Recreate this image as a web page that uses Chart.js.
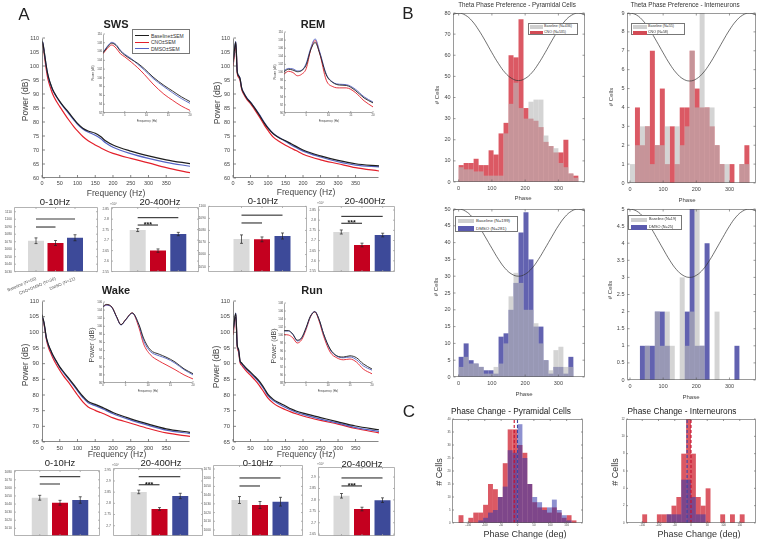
<!DOCTYPE html>
<html lang="en">
<head>
<meta charset="UTF-8">
<title>Power spectra and theta phase preference</title>
<script src="https://cdn.jsdelivr.net/npm/chart.js"></script>
<style>
  body { margin: 0; background: #fff; }
  #fig { position: relative; width: 757px; height: 540px; overflow: hidden;
         font-family: "Liberation Sans", Arial, Helvetica, sans-serif; color: #222; }
  #fig canvas { position: absolute; }
  .t { position: absolute; white-space: nowrap; line-height: 1; transform: translate(-50%, -50%); }
  .flat { will-change: transform; }
  .legend { position: absolute; background: #fff; border: 0.6px solid #777; box-sizing: border-box; }
</style>
</head>
<body>
<div id="fig"></div>
<script>
// ---------------- data: power spectra (dB) ----------------
const psdFreq = [0, 2, 5, 8, 12, 16, 20, 25, 30, 40, 50, 60, 75, 90, 100, 115, 130, 150, 165, 180, 200, 250, 300, 350, 417];
const psdXTicks = [0, 50, 100, 150, 200, 250, 300, 350];

const swsBase = [108.6, 108.3, 106.2, 103.5, 100.0, 97.2, 95.2, 93.3, 91.6, 89.3, 87.4, 85.7, 83.4, 81.0, 79.5, 77.8, 76.8, 76.0, 74.8, 73.2, 71.8, 69.6, 67.9, 66.5, 65.1];
const swsCno  = [108.3, 107.8, 105.5, 102.5, 98.8, 95.8, 93.8, 91.8, 90.0, 87.5, 85.5, 83.6, 80.8, 78.3, 76.8, 74.8, 73.3, 71.8, 70.8, 69.8, 68.8, 67.0, 65.4, 63.7, 61.9];
const swsDmso = [108.8, 108.5, 106.3, 103.5, 100.0, 97.1, 95.0, 93.1, 91.4, 89.1, 87.2, 85.5, 83.1, 80.7, 79.2, 77.5, 76.4, 75.3, 74.1, 72.5, 71.0, 68.7, 67.0, 65.6, 64.2];

const remBase = [101.4, 103.0, 106.5, 108.5, 98.0, 96.5, 95.5, 92.0, 90.5, 88.4, 87.0, 85.3, 82.5, 79.5, 77.8, 75.8, 74.5, 73.3, 72.3, 71.3, 70.0, 67.9, 66.3, 65.1, 64.3];
const remCno  = [100.0, 101.8, 105.5, 108.0, 97.5, 96.0, 95.0, 91.6, 90.1, 88.0, 86.6, 84.8, 81.9, 78.8, 77.0, 74.6, 73.2, 71.7, 70.7, 69.8, 68.5, 66.5, 65.1, 63.7, 62.5];
const remDmso = [101.0, 103.2, 106.8, 108.7, 98.2, 96.6, 95.6, 92.1, 90.6, 88.5, 87.1, 85.4, 82.7, 79.7, 78.0, 75.9, 74.6, 73.0, 71.9, 70.9, 69.6, 67.5, 65.8, 64.6, 64.0];

const wakeBase = [105.6, 104.8, 103.5, 101.5, 98.5, 96.8, 95.5, 94.2, 92.9, 90.9, 89.0, 87.5, 85.4, 83.2, 81.7, 79.6, 77.9, 77.0, 76.3, 75.5, 74.4, 72.4, 70.7, 69.2, 68.1];
const wakeCno  = [105.0, 104.2, 103.0, 101.0, 98.0, 96.0, 94.6, 93.3, 92.0, 89.8, 87.9, 86.2, 84.0, 81.6, 80.0, 77.8, 76.2, 75.1, 74.4, 73.7, 72.7, 71.0, 69.3, 67.9, 66.8];
const wakeDmso = [105.3, 104.5, 103.3, 101.3, 98.3, 96.6, 95.3, 94.0, 92.7, 90.7, 88.8, 87.2, 85.1, 82.9, 81.3, 79.2, 77.5, 76.6, 75.9, 75.1, 74.0, 72.0, 70.3, 68.8, 67.7];

const runBase = [100.8, 102.0, 104.5, 106.0, 96.0, 94.5, 91.0, 90.2, 89.5, 88.3, 87.3, 86.2, 84.4, 82.0, 80.2, 78.6, 77.6, 76.5, 75.6, 74.9, 74.2, 72.8, 71.4, 70.1, 68.9];
const runCno  = [99.2, 100.8, 104.0, 105.6, 95.4, 93.8, 90.4, 89.5, 88.7, 87.4, 86.3, 85.1, 83.1, 80.6, 79.0, 77.4, 76.3, 75.3, 74.6, 74.0, 73.3, 71.9, 70.7, 69.3, 67.9];
const runDmso = [100.5, 101.8, 104.4, 106.1, 95.8, 94.3, 90.8, 90.0, 89.2, 88.0, 87.0, 85.9, 84.0, 81.6, 79.8, 78.2, 77.2, 76.0, 75.2, 74.5, 73.8, 72.3, 71.0, 69.6, 68.4];

// insets, 0-20 Hz
const insetXTicks = [0, 5, 10, 15, 20];
const swsInsetFreq = [0, 1, 2, 3, 4, 5, 6.5, 8, 9.5, 11.5, 14, 16, 18, 20];
const swsInsetBase = [105.7, 107.0, 107.9, 107.4, 106.1, 105.2, 104.2, 103.3, 102.1, 100.2, 98.3, 97.0, 95.7, 94.6];
const swsInsetCno  = [105.5, 106.7, 107.5, 106.8, 105.5, 104.8, 103.6, 102.3, 100.8, 98.6, 96.3, 94.9, 93.6, 92.6];
const swsInsetDmso = [105.8, 107.2, 108.1, 107.6, 106.3, 105.4, 104.4, 103.1, 101.8, 99.9, 98.0, 96.6, 95.3, 94.2];

const remInsetFreq = [0, 1, 2, 3, 4, 5, 6, 7, 8, 9.5, 11, 12.5, 14, 16, 18, 20];
const remInsetBase = [100.2, 100.8, 100.6, 100.2, 100.5, 101.9, 105.6, 107.4, 104.8, 99.4, 97.5, 96.9, 96.8, 95.6, 93.7, 92.5];
const remInsetCno  = [99.6, 100.3, 100.0, 99.2, 99.6, 101.0, 105.6, 107.9, 104.8, 98.1, 96.5, 96.2, 96.2, 95.1, 93.0, 91.5];
const remInsetDmso = [100.5, 101.0, 100.9, 100.4, 100.6, 102.3, 106.0, 108.3, 105.2, 99.6, 97.6, 97.1, 97.0, 95.9, 94.0, 92.7];

const wakeInsetFreq = [0, 0.75, 2, 3, 4, 5, 6.5, 8, 9, 10.5, 12.5, 14, 16, 18, 20];
const wakeInsetBase = [104.9, 105.4, 104.7, 102.4, 100.4, 101.6, 103.3, 100.4, 97.1, 94.2, 93.1, 92.4, 91.2, 89.5, 88.3];
const wakeInsetCno  = [104.8, 105.3, 104.7, 102.4, 100.4, 101.6, 103.3, 99.6, 95.7, 93.0, 91.4, 90.5, 89.3, 88.0, 87.0];
const wakeInsetDmso = [104.8, 105.2, 104.6, 102.3, 100.3, 101.5, 103.2, 100.2, 96.5, 93.8, 92.7, 92.1, 90.9, 89.3, 88.0];

const runInsetFreq = [0, 1, 2, 3, 4, 5, 6, 7, 8, 9, 10.5, 12, 13.5, 15, 16.5, 18, 20];
const runInsetBase = [101.1, 101.1, 100.2, 98.7, 99.3, 101.8, 104.7, 105.8, 103.8, 100.3, 96.5, 94.8, 94.5, 94.8, 94.3, 92.8, 91.5];
const runInsetCno  = [100.1, 100.0, 99.3, 98.0, 98.8, 101.3, 104.5, 105.8, 103.4, 99.7, 95.7, 94.3, 93.8, 94.0, 93.2, 91.5, 90.3];
const runInsetDmso = [101.0, 101.0, 100.2, 98.5, 99.2, 101.6, 104.6, 105.9, 103.8, 100.2, 96.3, 94.7, 94.3, 94.5, 93.8, 92.3, 91.2];

// ---------------- data: band power bars ----------------
const barPos = [1, 2, 3];
const barGroups = ['Baseline (N=56)', 'CNO+DMSO (N=36)', 'DMSO (N=21)'];
const swsLow = [1071.3, 1068.3, 1075.3],  swsLowErr = [3.8, 3.3, 4.0];
const swsHigh = [2.748, 2.650, 2.729],    swsHighErr = [0.007, 0.008, 0.008];
const remLow = [1072.8, 1072.6, 1075.4],  remLowErr = [3.5, 2.0, 2.5];
const remHigh = [2.742, 2.678, 2.727],    remHighErr = [0.010, 0.009, 0.009];
const wakeLow = [1047.8, 1041.6, 1045.0], wakeLowErr = [3.0, 3.0, 4.0];
const wakeHigh = [2.851, 2.775, 2.833],   wakeHighErr = [0.008, 0.006, 0.012];
const runLow = [1034.4, 1028.7, 1032.5],  runLowErr = [4.0, 4.0, 5.0];
const runHigh = [2.818, 2.760, 2.799],    runHighErr = [0.010, 0.008, 0.010];
// significance bars: [from bar, to bar, level]
const swsLowSig = [[0, 2, 1100.3], [0, 1, 1089.6]];
const swsHighSig = [[0, 2, 2.807], [0, 1, 2.772]];
const remLowSig = [[0, 2, 1092.7], [0, 1, 1086.2]];
const remHighSig = [[0, 2, 2.819], [0, 1, 2.785]];
const wakeLowSig = [[0, 2, 1073.8], [0, 1, 1064.8]];
const wakeHighSig = [[0, 2, 2.919], [0, 1, 2.883]];
const runLowSig = [[0, 2, 1059.7], [0, 1, 1050.5]];
const runHighSig = [[0, 2, 2.896], [0, 1, 2.861]];

// ---------------- data: theta phase histograms ----------------
const phaseCenters = [7.5, 22.5, 37.5, 52.5, 67.5, 82.5, 97.5, 112.5, 127.5, 142.5, 157.5, 172.5,
                      187.5, 202.5, 217.5, 232.5, 247.5, 262.5, 277.5, 292.5, 307.5, 322.5, 337.5, 352.5];
const phaseTicks = [0, 100, 200, 300];
const pyrBaseA = [7, 6, 6, 5, 5, 3, 3, 3, 3, 23, 37, 47, 35, 30, 38, 39, 39, 22, 17, 16, 9, 7, 4, 2];
const pyrCno   = [8, 9, 9, 11, 8, 8, 15, 13, 23, 28, 60, 59, 77, 35, 30, 29, 26, 19, 17, 14, 14, 20, 4, 3];
const intBaseA = [1, 2, 3, 3, 1, 2, 2, 3, 0, 3, 2, 3, 7, 4, 9, 4, 4, 2, 1, 1, 0, 0, 1, 1];
const intCno   = [0, 4, 2, 3, 7, 2, 5, 1, 3, 1, 4, 4, 7, 5, 4, 4, 3, 2, 1, 0, 1, 0, 1, 2];
const pyrBaseB = [3, 6, 4, 4, 3, 1, 1, 3, 4, 10, 24, 31, 28, 20, 20, 16, 10, 5, 2, 8, 9, 3, 3, 0];
const pyrDmso  = [6, 10, 5, 4, 3, 2, 2, 1, 12, 13, 20, 28, 43, 49, 35, 15, 15, 5, 1, 3, 3, 1, 6, 0];
const intBaseB = [0, 0, 0, 1, 0, 2, 1, 2, 1, 0, 3, 1, 2, 5, 1, 0, 0, 2, 0, 0, 0, 0, 0, 0];
const intDmso  = [0, 0, 1, 1, 1, 2, 2, 1, 0, 0, 0, 2, 5, 1, 1, 4, 0, 0, 0, 0, 0, 1, 0, 0];
// reference theta cycle drawn over each histogram
const waveX    = [-17, 0, 20, 40, 60, 80, 100, 120, 140, 160, 180, 200, 220, 240, 260, 280, 300, 320, 340, 360, 380];
const waveXInt = [-9, 0, 20, 40, 60, 80, 100, 120, 140, 160, 180, 200, 220, 240, 260, 280, 300, 320, 340, 360, 380];
const pyrCnoWave  = [79.3, 80, 79.0, 76.3, 72.0, 66.8, 61.2, 56.0, 51.7, 49.0, 48.0, 49.0, 51.7, 56.0, 61.2, 66.8, 72.0, 76.3, 79.0, 80.0, 79.0];
const intCnoWave  = [8.98, 9.0, 8.89, 8.58, 8.1, 7.51, 6.89, 6.3, 5.82, 5.51, 5.4, 5.51, 5.82, 6.3, 6.89, 7.51, 8.1, 8.58, 8.89, 9.0, 8.89];
const pyrDmsoWave = [49.6, 50, 49.4, 47.7, 45.0, 41.7, 38.3, 35.0, 32.3, 30.6, 30.0, 30.6, 32.3, 35.0, 38.3, 41.7, 45.0, 47.7, 49.4, 50.0, 49.4];
const intDmsoWave = [4.99, 5.0, 4.94, 4.77, 4.5, 4.17, 3.83, 3.5, 3.23, 3.06, 3.0, 3.06, 3.23, 3.5, 3.83, 4.17, 4.5, 4.77, 4.94, 5.0, 4.94];

// ---------------- data: phase change ----------------
const changeCenters = [-172.5, -157.5, -142.5, -127.5, -112.5, -97.5, -82.5, -67.5, -52.5, -37.5, -22.5, -7.5,
                       7.5, 22.5, 37.5, 52.5, 67.5, 82.5, 97.5, 112.5, 127.5, 142.5, 157.5, 172.5];
const changeTicks = [-150, -100, -50, 0, 50, 100, 150];
const pyrChangeCno  = [3, 0, 2, 4, 4, 7, 15, 13, 10, 23, 36, 36, 30, 27, 15, 8, 6, 6, 4, 6, 4, 2, 3, 1];
const pyrChangeDmso = [0, 0, 0, 0, 1, 2, 4, 5, 10, 14, 28, 27, 38, 25, 15, 10, 8, 5, 6, 9, 5, 3, 1, 0];
const intChangeCno  = [0, 0, 1, 0, 0, 1, 1, 1, 2, 3, 8, 12, 8, 3, 2, 4, 0, 0, 1, 0, 1, 0, 1, 0];
const intChangeDmso = [0, 0, 0, 0, 0, 0, 0, 1, 1, 1, 5, 5, 3, 1, 1, 0, 0, 0, 0, 0, 0, 0, 0, 0];
const pyrMeanChange = {cno: -10, dmso: 0};
const intMeanChange = {cno: 0, dmso: -12};

// ---------------- styles ----------------
const C_BASE = '#1e1e1e', C_CNO = '#e3202b', C_DMSO = '#5563c4';
const barFill = ['#d9d9d9', '#c4001f', '#3d4a99'];
const H_GRAY = 'rgba(185,185,185,0.62)', H_RED = 'rgba(205,25,40,0.72)', H_BLUE = 'rgba(45,45,150,0.75)';
const C_RED = 'rgba(205,25,40,0.72)', C_BLUE = 'rgba(50,55,170,0.55)';

Chart.defaults.font.family = '"Liberation Sans", Arial, Helvetica, sans-serif';
Chart.defaults.color = '#444';

const fig = document.getElementById('fig');

function label(str, x, y, size, o = {}) {
  const d = document.createElement('div');
  d.className = o.rot ? 't' : 't flat';
  d.textContent = str;
  d.style.left = x + 'px';
  d.style.top = y + 'px';
  d.style.fontSize = size + 'px';
  if (o.bold) d.style.fontWeight = 'bold';
  d.style.color = o.color || '#222';
  if (o.rot) d.style.transform = 'translate(-50%, -50%) rotate(' + o.rot + 'deg)';
  fig.appendChild(d);
}

function legend(x, y, w, h, rows, o) {
  const box = document.createElement('div');
  box.className = 'legend';
  Object.assign(box.style, {left: x + 'px', top: y + 'px', width: w + 'px', height: h + 'px'});
  rows.forEach((r, i) => {
    const sw = document.createElement('div');
    sw.style.cssText = 'position:absolute;left:' + o.swX + 'px;top:' + (o.rowY[i] - o.swH / 2) +
      'px;width:' + o.swW + 'px;height:' + o.swH + 'px;background:' + r[1];
    box.appendChild(sw);
    const t = document.createElement('div');
    t.textContent = r[0];
    t.style.cssText = 'position:absolute;left:' + o.txX + 'px;top:' + o.rowY[i] +
      'px;transform:translateY(-50%);font-size:' + o.size + 'px;line-height:1;white-space:nowrap;color:#333';
    box.appendChild(t);
  });
  fig.appendChild(box);
}

function axis(min, max, ticks, o = {}) {
  return {
    type: 'linear', min: min, max: max, offset: false,
    grid: {display: false, drawTicks: false}, border: {display: false},
    afterBuildTicks: s => { s.ticks = ticks.map(v => ({value: v})); },
    ticks: {
      display: o.show !== false, autoSkip: false,
      minRotation: o.rot || 0, maxRotation: o.rot || 0,
      padding: o.pad == null ? 2 : o.pad, color: o.color || '#444',
      font: {size: o.size || 5.5},
      callback: o.fmt || (v => v)
    }
  };
}

// plot area given in page pixels, margins hold the tick labels
function build(area, m, type, datasets, sx, sy, after) {
  const [x0, y0, x1, y1] = area;
  const c = document.createElement('canvas');
  const w = x1 - x0 + m.l + m.r, h = y1 - y0 + m.t + m.b;
  c.width = w; c.height = h;
  Object.assign(c.style, {left: (x0 - m.l) + 'px', top: (y0 - m.t) + 'px', width: w + 'px', height: h + 'px'});
  fig.appendChild(c);
  sx.afterFit = s => { s.height = m.b; s.paddingLeft = 0; s.paddingRight = 0; };
  sy.afterFit = s => { s.width = m.l; s.paddingTop = 0; s.paddingBottom = 0; };
  return new Chart(c, {
    type: type,
    data: {datasets: datasets},
    options: {
      responsive: false, animation: false, events: [],
      layout: {padding: {left: 0, top: m.t, right: m.r, bottom: 0}},
      plugins: {legend: {display: false}, tooltip: {enabled: false}},
      scales: {x: sx, y: sy}
    },
    plugins: [{id: 'extras', afterDraw: after}]
  });
}

function frame(chart, box, color, lw, tl) {
  const {ctx, chartArea: a} = chart;
  const xs = chart.scales.x, ys = chart.scales.y;
  const L = a.left + 0.5, R = a.right - 0.5, T = a.top + 0.5, B = a.bottom - 0.5;
  ctx.save();
  ctx.strokeStyle = color; ctx.lineWidth = lw;
  ctx.beginPath();
  if (box) ctx.rect(L, T, R - L, B - T);
  else { ctx.moveTo(L, T); ctx.lineTo(L, B); ctx.lineTo(R, B); }
  xs.ticks.forEach(t => {
    const p = xs.getPixelForValue(t.value);
    ctx.moveTo(p, B); ctx.lineTo(p, B - tl);
    if (box) { ctx.moveTo(p, T); ctx.lineTo(p, T + tl); }
  });
  ys.ticks.forEach(t => {
    const p = ys.getPixelForValue(t.value);
    ctx.moveTo(L, p); ctx.lineTo(L + tl, p);
    if (box) { ctx.moveTo(R, p); ctx.lineTo(R - tl, p); }
  });
  ctx.stroke();
  ctx.restore();
}

// ---------------- power spectra ----------------
function psd(area, m, freq, series, yr, yTicks, xMax, xTicks, fs, lw) {
  const ds = [[series[0], C_BASE], [series[2], C_DMSO], [series[1], C_CNO]].map(p => ({
    data: freq.map((f, i) => ({x: f, y: p[0][i]})),
    borderColor: p[1], borderWidth: lw, pointRadius: 0, fill: false,
    cubicInterpolationMode: 'monotone'
  }));
  const small = fs < 4;
  build(area, m, 'line', ds,
    axis(0, xMax, xTicks, {size: fs, pad: small ? 0.8 : 2.5}),
    axis(yr[0], yr[1], yTicks, {size: fs, pad: small ? 1 : 3}),
    ch => frame(ch, false, '#555', small ? 0.5 : 0.7, small ? 1.5 : 2.5));
}

const mainM = {l: 20, t: 4, r: 3, b: 10};
const insetM = {l: 7, t: 2, r: 2, b: 5};
const yTicks60 = [60, 65, 70, 75, 80, 85, 90, 95, 100, 105, 110];
const yTicks65 = [65, 70, 75, 80, 85, 90, 95, 100, 105, 110];

psd([42, 38, 190, 178], mainM, psdFreq, [swsBase, swsCno, swsDmso], [60, 110], yTicks60, 417, psdXTicks, 5.5, 1.2);
psd([233, 38, 379, 178], mainM, psdFreq, [remBase, remCno, remDmso], [60, 110], yTicks60, 417, psdXTicks, 5.5, 1.2);
psd([42, 301, 190, 442], mainM, psdFreq, [wakeBase, wakeCno, wakeDmso], [65, 110], yTicks65, 417, psdXTicks, 5.8, 1.2);
psd([233, 301, 379, 442], mainM, psdFreq, [runBase, runCno, runDmso], [65, 110], yTicks65, 417, psdXTicks, 5.8, 1.2);

psd([103, 34, 190, 113], insetM, swsInsetFreq, [swsInsetBase, swsInsetCno, swsInsetDmso], [92, 110],
    [92, 94, 96, 98, 100, 102, 104, 106, 108, 110], 20, insetXTicks, 2.8, 0.9);
psd([284, 32, 373, 113], insetM, remInsetFreq, [remInsetBase, remInsetCno, remInsetDmso], [90, 110],
    [90, 92, 94, 96, 98, 100, 102, 104, 106, 108, 110], 20, insetXTicks, 2.8, 0.9);
psd([103, 302, 193, 383], insetM, wakeInsetFreq, [wakeInsetBase, wakeInsetCno, wakeInsetDmso], [86, 106],
    [86, 88, 90, 92, 94, 96, 98, 100, 102, 104, 106], 20, insetXTicks, 2.8, 0.9);
psd([284, 303, 372, 383], insetM, runInsetFreq, [runInsetBase, runInsetCno, runInsetDmso], [88, 108],
    [88, 90, 92, 94, 96, 98, 100, 102, 104, 106, 108], 20, insetXTicks, 2.8, 0.9);

legend(132, 29, 58, 25, [['Baseline\u00b1SEM', C_BASE], ['CNO\u00b1SEM', C_CNO], ['DMSO\u00b1SEM', C_DMSO]],
  {swX: 2, swW: 14, swH: 1, txX: 18, size: 5, rowY: [5.5, 12, 18.5]});

// ---------------- band power bars ----------------
// c2 = page x of the middle bar, sp = bar spacing in px
function bars(area, c2, sp, vals, errs, yr, ticks, sig, o = {}) {
  const w = area[2] - area[0];
  const xMin = 2 - (c2 - area[0]) / sp, xMax = xMin + w / sp;
  const ds = [{
    data: barPos.map((x, i) => ({x: x, y: vals[i]})),
    backgroundColor: barFill, borderWidth: 0, inflateAmount: 0,
    barPercentage: 16 / sp, categoryPercentage: 1
  }];
  const sx = axis(xMin, xMax, barPos, o.names ?
    {size: 4.3, rot: 23, pad: 4, color: '#555', fmt: (v, i) => o.names[i]} : {show: false});
  const sy = axis(yr[0], yr[1], ticks, {size: 3.4, pad: 2, color: '#555', fmt: o.fmt});
  const m = {l: 12, t: 8, r: 2, b: o.names ? 34 : 2};
  build(area, m, 'bar', ds, sx, sy, ch => {
    const {ctx} = ch, xs = ch.scales.x, ys = ch.scales.y;
    ctx.save();
    ctx.strokeStyle = '#222'; ctx.lineWidth = 0.7;
    ctx.beginPath();
    barPos.forEach((bx, i) => {
      const px = xs.getPixelForValue(bx);
      const top = ys.getPixelForValue(vals[i] + errs[i]), bot = ys.getPixelForValue(vals[i] - errs[i]);
      ctx.moveTo(px, top); ctx.lineTo(px, bot);
      ctx.moveTo(px - 1.5, top); ctx.lineTo(px + 1.5, top);
      ctx.moveTo(px - 1.5, bot); ctx.lineTo(px + 1.5, bot);
    });
    ctx.stroke();
    sig.forEach((s, k) => {
      const xa = xs.getPixelForValue(barPos[s[0]]), xb = xs.getPixelForValue(barPos[s[1]]);
      const py = ys.getPixelForValue(s[2]);
      const heavy = o.heavy === k;
      ctx.strokeStyle = heavy ? '#7a7a7a' : '#1a1a1a';
      ctx.lineWidth = heavy ? 1.6 : 1;
      ctx.beginPath(); ctx.moveTo(xa, py); ctx.lineTo(xb, py); ctx.stroke();
      if (o.stars && k === 1) {
        ctx.fillStyle = '#111'; ctx.font = 'bold 7px "Liberation Sans", Arial';
        ctx.textAlign = 'center'; ctx.textBaseline = 'alphabetic';
        ctx.fillText('***', (xa + xb) / 2, py + 1.8);
      }
    });
    if (o.expo) {
      ctx.fillStyle = '#555'; ctx.font = '3.4px "Liberation Sans", Arial';
      ctx.textAlign = 'left'; ctx.textBaseline = 'bottom';
      ctx.fillText('\u00d710\u2074', ch.chartArea.left - 1, ch.chartArea.top - 1.5);
    }
    ctx.restore();
    frame(ch, true, '#a0a0a0', 0.8, 1.5);
  });
}

const fmtHigh = v => String(Math.round(v * 100) / 100);
bars([14, 207, 98, 272], 55.5, 19.5, swsLow, swsLowErr, [1029.6, 1116.3],
  [1030, 1040, 1050, 1060, 1070, 1080, 1090, 1100, 1110], swsLowSig, {names: barGroups, heavy: 0});
bars([111, 207, 199, 272], 158, 20.3, swsHigh, swsHighErr, [2.548, 2.858],
  [2.55, 2.6, 2.65, 2.7, 2.75, 2.8, 2.85], swsHighSig, {stars: true, expo: true, fmt: fmtHigh});
bars([208, 206, 307, 272], 262, 20.5, remLow, remLowErr, [1045.5, 1100.3],
  [1050, 1060, 1070, 1080, 1090, 1100], remLowSig, {});
bars([318, 206, 395, 272], 362, 20.7, remHigh, remHighErr, [2.545, 2.87],
  [2.55, 2.6, 2.65, 2.7, 2.75, 2.8, 2.85], remHighSig, {stars: true, expo: true, fmt: fmtHigh});
bars([14, 470, 100, 536], 60, 20.25, wakeLow, wakeLowErr, [1000.5, 1082.1],
  [1010, 1020, 1030, 1040, 1050, 1060, 1070, 1080], wakeLowSig, {heavy: 1});
bars([113, 468, 203, 536], 159.5, 20.75, wakeHigh, wakeHighErr, [2.654, 2.958],
  [2.7, 2.75, 2.8, 2.85, 2.9, 2.95], wakeHighSig, {stars: true, expo: true, fmt: fmtHigh});
bars([213, 465, 303, 536], 260, 20.5, runLow, runLowErr, [993.1, 1074.6],
  [1000, 1010, 1020, 1030, 1040, 1050, 1060, 1070], runLowSig, {});
bars([318, 467, 395, 536], 362, 20.5, runHigh, runHighErr, [2.642, 2.944],
  [2.65, 2.7, 2.75, 2.8, 2.85, 2.9], runHighSig, {stars: true, expo: true, fmt: fmtHigh});

// ---------------- histograms ----------------
function hist(area, m, centers, front, back, colors, xr, xTicks, yr, yTicks, fs, extra) {
  const bar = (vals, col) => ({
    data: centers.map((c, i) => ({x: c, y: vals[i]})),
    backgroundColor: col, borderWidth: 0, inflateAmount: 0,
    grouped: false, barPercentage: 1, categoryPercentage: 1
  });
  const ds = [bar(front, colors[0]), bar(back, colors[1])].concat(extra || []);
  build(area, m, 'bar', ds,
    axis(xr[0], xr[1], xTicks, {size: fs, pad: fs < 4 ? 1 : 3}),
    axis(yr[0], yr[1], yTicks, {size: fs, pad: fs < 4 ? 1.5 : 2.5}),
    ch => frame(ch, true, '#555', 0.6, fs < 4 ? 1.5 : 2));
}
function wave(xs, ys) {
  return {type: 'line', data: xs.map((x, i) => ({x: x, y: ys[i]})), borderColor: '#333', borderWidth: 0.7,
          pointRadius: 0, tension: 0.4, fill: false, order: -1};
}
function meanLine(x, top, col) {
  return {type: 'line', data: [{x: x, y: 0}, {x: x, y: top}], borderColor: col, borderWidth: 1.1,
          borderDash: [3, 2], pointRadius: 0, fill: false, order: -1};
}

const histM = {l: 14, t: 2, r: 2, b: 10};
hist([453, 13, 585, 182], histM, phaseCenters, pyrBaseA, pyrCno, [H_GRAY, H_RED], [-17, 380], phaseTicks,
  [0, 80], [0, 10, 20, 30, 40, 50, 60, 70, 80], 5.5, [wave(waveX, pyrCnoWave)]);
hist([627, 13, 756, 183], histM, phaseCenters, intBaseA, intCno, [H_GRAY, H_RED], [-9, 380], phaseTicks,
  [0, 9], [0, 1, 2, 3, 4, 5, 6, 7, 8, 9], 5.5, [wave(waveXInt, intCnoWave)]);
hist([453, 209, 585, 377], histM, phaseCenters, pyrBaseB, pyrDmso, [H_GRAY, H_BLUE], [-17, 380], phaseTicks,
  [0, 50], [0, 5, 10, 15, 20, 25, 30, 35, 40, 45, 50], 5.5, [wave(waveX, pyrDmsoWave)]);
hist([627, 209, 756, 380], histM, phaseCenters, intBaseB, intDmso, [H_GRAY, H_BLUE], [-9, 380], phaseTicks,
  [0, 5], [0, 0.5, 1, 1.5, 2, 2.5, 3, 3.5, 4, 4.5, 5], 5.5, [wave(waveXInt, intDmsoWave)]);

const chM = {l: 9, t: 2, r: 2, b: 6};
hist([452, 419, 583, 523], chM, changeCenters, pyrChangeDmso, pyrChangeCno, [C_BLUE, C_RED], [-200, 200], changeTicks,
  [0, 40], [0, 5, 10, 15, 20, 25, 30, 35, 40], 2.8,
  [meanLine(pyrMeanChange.cno, 40, '#c8102e'), meanLine(pyrMeanChange.dmso, 40, '#3a45a8')]);
hist([626, 419, 756, 523], chM, changeCenters, intChangeDmso, intChangeCno, [C_BLUE, C_RED], [-200, 200], changeTicks,
  [0, 12], [0, 2, 4, 6, 8, 10, 12], 2.8,
  [meanLine(intMeanChange.dmso, 12, '#3a45a8'), meanLine(intMeanChange.cno, 12, '#c8102e')]);

legend(528, 23, 50, 12, [['Baseline (N=436)', '#cfcfcf'], ['CNO (N=535)', '#d24b55']],
  {swX: 1, swW: 13, swH: 3.5, txX: 15, size: 3.6, rowY: [3, 8.6]});
legend(631, 23, 54, 12, [['Baseline (N=55)', '#cfcfcf'], ['CNO (N=58)', '#d24b55']],
  {swX: 1, swW: 14, swH: 3.5, txX: 16, size: 3.6, rowY: [3, 9]});
legend(455, 216, 63, 16, [['Baseline (N=199)', '#cfcfcf'], ['DMSO (N=281)', '#5a5aae']],
  {swX: 1.5, swW: 16, swH: 4.5, txX: 20, size: 4.4, rowY: [4, 11.5]});
legend(628, 215, 54, 15, [['Baseline (N=19)', '#cfcfcf'], ['DMSO (N=25)', '#5a5aae']],
  {swX: 1.5, swW: 16, swH: 4.5, txX: 20, size: 3.8, rowY: [4, 11.5]});

// ---------------- text ----------------
label('A', 24, 14, 17);
label('B', 408, 13, 17);
label('C', 409, 411, 17);
label('SWS', 115.5, 24, 11, {bold: true});
label('REM', 312.5, 24, 11, {bold: true});
label('Wake', 116, 290, 11, {bold: true});
label('Run', 311.5, 289.5, 11, {bold: true});
label('Power (dB)', 25, 100, 8.5, {rot: -90, color: '#444'});
label('Power (dB)', 217, 103, 8.5, {rot: -90, color: '#444'});
label('Power (dB)', 25, 365, 8.5, {rot: -90, color: '#444'});
label('Power (dB)', 216, 367, 8.5, {rot: -90, color: '#444'});
label('Frequency (Hz)', 115.5, 192.5, 8.5, {color: '#444'});
label('Frequency (Hz)', 306, 192, 8.5, {color: '#444'});
label('Frequency (Hz)', 117, 454, 8.5, {color: '#444'});
label('Frequency (Hz)', 306, 454, 8.5, {color: '#444'});
label('Power (dB)', 93, 73, 3, {rot: -90, color: '#444'});
label('Frequency (Hz)', 146.5, 121, 3, {color: '#444'});
label('Power (dB)', 275, 72, 3, {rot: -90, color: '#444'});
label('Frequency (Hz)', 328.5, 121, 3, {color: '#444'});
label('Power (dB)', 91, 345, 7, {rot: -90, color: '#444'});
label('Frequency (Hz)', 148, 391, 3, {color: '#444'});
label('Power (dB)', 272.5, 346, 7, {rot: -90, color: '#444'});
label('Frequency (Hz)', 328, 391, 3, {color: '#444'});
label('0-10Hz', 55, 201.5, 9.5);
label('20-400Hz', 160, 201.5, 9.5);
label('0-10Hz', 263, 201, 9.5);
label('20-400Hz', 365, 201, 9.5);
label('0-10Hz', 60, 462.5, 9.5);
label('20-400Hz', 161, 463, 9.5);
label('0-10Hz', 258, 463, 9.5);
label('20-400Hz', 362, 464, 9.5);
label('Theta Phase Preference - Pyramidal Cells', 517, 4.5, 6.3, {color: '#333'});
label('Theta Phase Preference - Interneurons', 685, 4.5, 6.3, {color: '#333'});
label('# Cells', 437, 95, 6, {rot: -90, color: '#444'});
label('# Cells', 610.5, 97, 6, {rot: -90, color: '#444'});
label('# Cells', 436, 287, 6, {rot: -90, color: '#444'});
label('# Cells', 609.5, 290, 6, {rot: -90, color: '#444'});
label('Phase', 523, 198.3, 6, {color: '#444'});
label('Phase', 687, 200, 6, {color: '#444'});
label('Phase', 524, 394, 6, {color: '#444'});
label('Phase', 690.5, 396.7, 6, {color: '#444'});
label('Phase Change - Pyramidal Cells', 511, 411, 8.3, {color: '#1a1a1a'});
label('Phase Change - Interneurons', 682, 411, 8.3, {color: '#1a1a1a'});
label('Phase Change (deg)', 524.5, 534.3, 9, {color: '#333'});
label('Phase Change (deg)', 699, 533.5, 9, {color: '#333'});
label('# Cells', 438.5, 472, 9, {rot: -90, color: '#333'});
label('# Cells', 614.5, 472, 9, {rot: -90, color: '#333'});
</script>
</body>
</html>
